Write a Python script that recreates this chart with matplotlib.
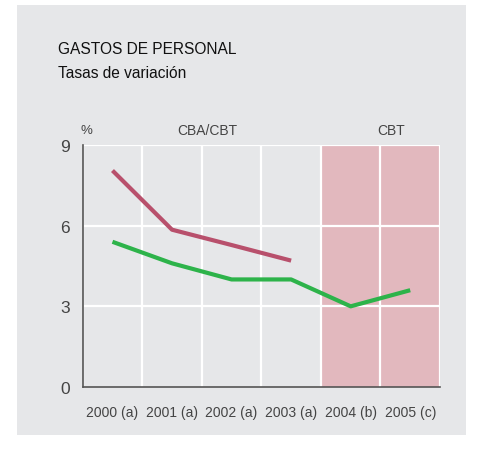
import matplotlib.pyplot as plt
from matplotlib.patches import Rectangle

plt.rcParams['font.family'] = ['Liberation Sans', 'DejaVu Sans']

years = ['2000 (a)', '2001 (a)', '2002 (a)', '2003 (a)', '2004 (b)', '2005 (c)']
cba_cbt = [8.05, 5.85, 5.28, 4.7]
cbt = [5.4, 4.6, 4.0, 4.0, 3.0, 3.6]
yticks = [0, 3, 6, 9]

W, H = 487, 452
fig = plt.figure(figsize=(W / 100, H / 100), dpi=100)
fig.patch.set_facecolor('white')

# gray panel behind everything
fig.patches.append(Rectangle((17 / W, 1 - 436 / H), (466 - 17) / W, (436 - 6) / H,
                             transform=fig.transFigure, facecolor='#e6e7e9',
                             edgecolor='none', zorder=-1))

ax = fig.add_axes([82.7 / W, 1 - 388 / H, (440 - 82.7) / W, (388 - 146) / H])
ax.set_facecolor('#e6e7e9')

n = len(years)
ax.axvspan(3.5, n - 0.5, color='#e2b8be', zorder=0, lw=0)

for i in range(n + 1):
    ax.axvline(i - 0.5, color='white', lw=1.6, zorder=1)
for y in yticks[1:]:
    ax.axhline(y, color='white', lw=1.6, zorder=1)

ax.plot(range(len(cba_cbt)), cba_cbt, color='#b8506c', lw=3.0, zorder=3,
        solid_capstyle='butt')
ax.plot(range(len(cbt)), cbt, color='#2db34a', lw=3.0, zorder=3,
        solid_capstyle='butt')

ax.set_xlim(-0.5, n - 0.5)
ax.set_ylim(0, 9)
ax.set_xticks(range(n))
ax.set_xticklabels(years)
ax.set_yticks(yticks)
ax.tick_params(length=0, colors='#444444', labelsize=10)
ax.tick_params(axis='x', pad=13)
ax.tick_params(axis='y', pad=9, labelsize=12.5)

for s in ['top', 'right']:
    ax.spines[s].set_visible(False)
for s in ['left', 'bottom']:
    ax.spines[s].set_color('#555555')
    ax.spines[s].set_linewidth(1.2)
    ax.spines[s].set_zorder(4)

fig.text(58 / W, 1 - 50 / H, 'GASTOS DE PERSONAL', fontsize=11.2, color='#111111',
         va='center', ha='left')
fig.text(58 / W, 1 - 73 / H, 'Tasas de variación', fontsize=11.2, color='#111111',
         va='center', ha='left')
fig.text(86 / W, 1 - 131 / H, '%', fontsize=9.5, color='#444444', va='center', ha='center')
fig.text(207 / W, 1 - 131 / H, 'CBA/CBT', fontsize=10, color='#444444', va='center', ha='center')
fig.text(391 / W, 1 - 131 / H, 'CBT', fontsize=10, color='#444444', va='center', ha='center')

fig.savefig('out.png', dpi=100)
